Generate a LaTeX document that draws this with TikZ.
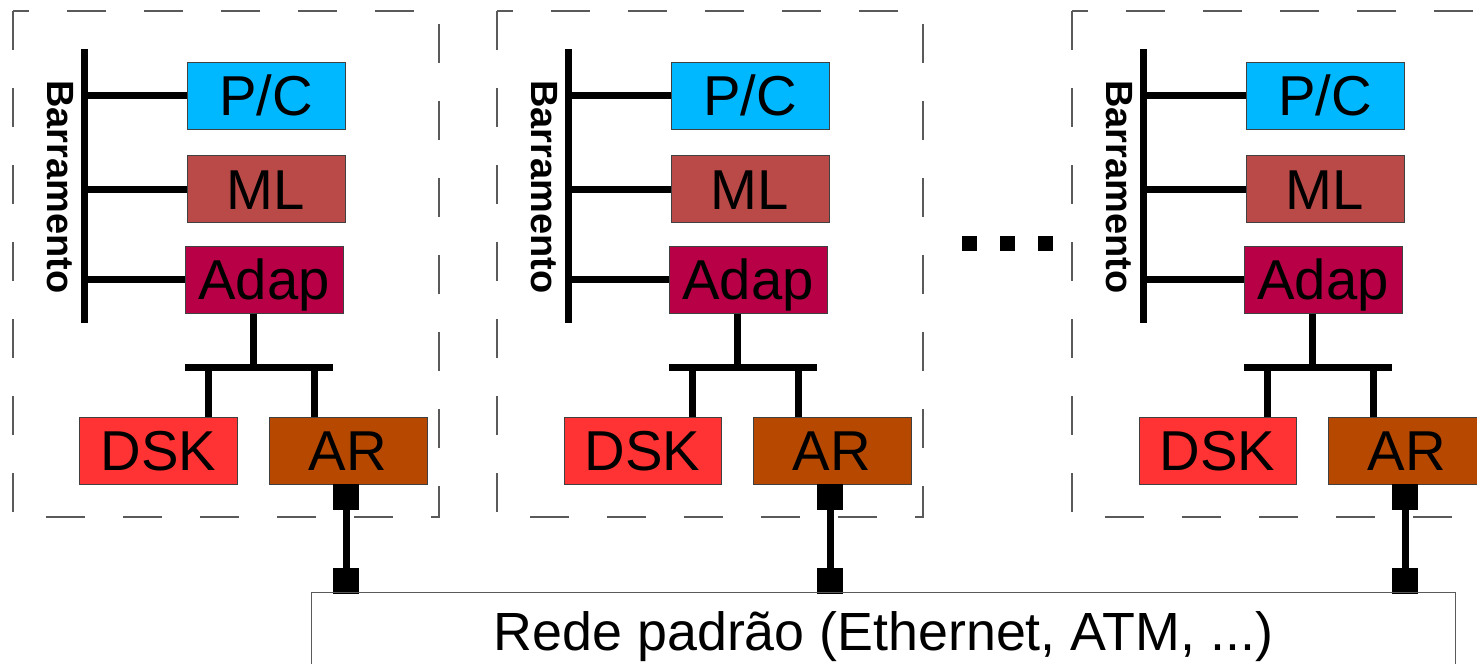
\documentclass[tikz,border=0pt]{standalone}
\usepackage{fontspec}
\setmainfont{Liberation Sans}
\definecolor{pccyan}{RGB}{0,184,255}
\definecolor{mlred}{RGB}{185,74,72}
\definecolor{adapred}{RGB}{183,0,69}
\definecolor{dskred}{RGB}{255,51,51}
\definecolor{arbrown}{RGB}{182,72,0}
\definecolor{framegray}{RGB}{90,90,90}
\tikzstyle{unit}=[rectangle, draw=black!75,
                  line width=0.2mm, inner sep=0pt,
                  minimum width=3.16cm, minimum height=1.34cm,
                  text height=22.9pt, text depth=0pt,
                  font=\fontsize{32}{38}\selectfont]
\tikzstyle{wire}=[line width=1.4mm]
\tikzstyle{plug}=[rectangle, fill=black, inner sep=0pt,
                  minimum width=5.2mm, minimum height=5.1mm]
\tikzstyle{frame}=[draw=framegray, line width=0.26mm,
                   dash pattern=on 7.7mm off 7.7mm]
\begin{document}
\begin{tikzpicture}[x=0.2mm,y=-0.2mm]
  \useasboundingbox (0,0) rectangle (1477,663);
  \clip (0,0) rectangle (1477,663);
  \foreach \i/\dx in {1/0,2/484,3/1059} {
  \begin{scope}[shift={(\dx,0)}]
    \draw[frame] (13,11) rectangle (439,517);
    \coordinate (bustop\i) at (84,49);
    \coordinate (busbot\i) at (84,323);
    \node (buslabel\i) at (61.5,187) [rotate=-90, inner sep=0pt, text height=15.5pt, text depth=0pt,
      font=\bfseries\fontsize{21.6}{26}\selectfont] {Barramento};
    \node (pc\i) at (266,95.5) [unit, fill=pccyan] {P/C};
    \node (ml\i) at (266,189) [unit, fill=mlred] {ML};
    \node (adap\i) at (264,279.5) [unit, fill=adapred] {Adap};
    \node (dsk\i) at (158.5,450.5) [unit, fill=dskred, minimum width=3.14cm] {DSK};
    \node (ar\i) at (348,450.5) [unit, fill=arbrown] {AR};
    \node (arplug\i) at (346,497) [plug] {};
    \node (netplug\i) at (346,581) [plug] {};
    \coordinate (hub\i) at (253,367);
    \coordinate (barl\i) at (185,367);
    \coordinate (barr\i) at (333,367);
    \coordinate (dskdrop\i) at (208,367);
    \coordinate (ardrop\i) at (314,367);
    \draw[wire] (bustop\i) -- (busbot\i);
    \draw[wire] (bustop\i |- pc\i.west) -- (pc\i.west);
    \draw[wire] (bustop\i |- ml\i.west) -- (ml\i.west);
    \draw[wire] (bustop\i |- adap\i.west) -- (adap\i.west);
    \draw[wire] (hub\i |- adap\i.south) -- (hub\i);
    \draw[wire] (barl\i) -- (barr\i);
    \draw[wire] (dskdrop\i) -- (dskdrop\i |- dsk\i.north);
    \draw[wire] (ardrop\i) -- (ardrop\i |- ar\i.north);
    \draw[wire] (arplug\i) -- (netplug\i);
  \end{scope}
  }
  \node (dot1) at (969.5,243.5) [fill=black, inner sep=0pt, minimum size=3mm] {};
  \node (dot2) at (1007.5,243.5) [fill=black, inner sep=0pt, minimum size=3mm] {};
  \node (dot3) at (1045.5,243.5) [fill=black, inner sep=0pt, minimum size=3mm] {};
  \node (rede) at (883.5,631.5) [draw=framegray, line width=0.2mm, inner sep=0pt,
    minimum width=22.86cm, minimum height=1.56cm, text height=21.9pt, text depth=0pt,
    font=\fontsize{30.6}{36}\selectfont] {Rede padrão (Ethernet, ATM, ...)};
\end{tikzpicture}
\end{document}
